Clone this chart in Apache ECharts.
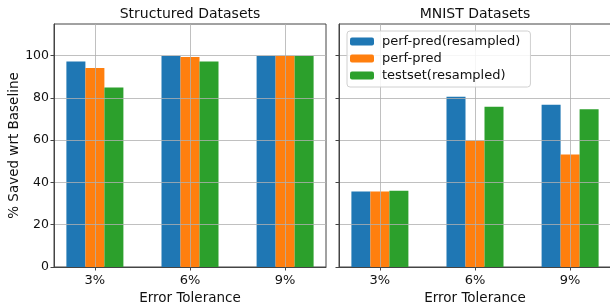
<!DOCTYPE html>
<html>
<head>
<meta charset="utf-8">
<script src="https://cdn.jsdelivr.net/npm/echarts@6/dist/echarts.min.js"></script>
<style>
  html, body { margin: 0; padding: 0; background: #fff; }
  #chart { width: 610px; height: 303px; }
</style>
</head>
<body>
<div id="chart"></div>
<script>
// error tolerance groups
const categories = ['3%', '6%', '9%']
const seriesNames = ['perf-pred(resampled)', 'perf-pred', 'testset(resampled)']
const yTicks = [0, 20, 40, 60, 80, 100]

// Structured datasets
const structPerfPredResampled = [97.2, 99.9, 99.9]
const structPerfPred = [94.2, 99.4, 99.9]
const structTestsetResampled = [84.9, 97.2, 99.9]

// MNIST datasets
const mnistPerfPredResampled = [35.7, 80.6, 76.8]
const mnistPerfPred = [35.7, 59.8, 53.2]
const mnistTestsetResampled = [36.1, 75.8, 74.7]

const colors = ['#1f77b4', '#ff7f0e', '#2ca02c']
const frameColor = '#444'
const gridColor = '#b0b0b0'
const font = 'DejaVu Sans'

function xAxisFor(gridIndex) {
  return {
    type: 'value',
    gridIndex: gridIndex,
    min: -0.43,
    max: 2.43,
    z: 3,
    name: 'Error Tolerance',
    nameLocation: 'middle',
    nameGap: 21,
    nameTextStyle: { fontFamily: font, fontSize: 13.5, color: '#111' },
    axisLine: { show: true, onZero: false, lineStyle: { color: frameColor, width: 1 } },
    axisTick: { show: true, inside: false, length: 3.5, customValues: [0, 1, 2], lineStyle: { color: frameColor } },
    axisLabel: {
      customValues: [0, 1, 2],
      margin: 7,
      fontFamily: font,
      fontSize: 13,
      color: '#111',
      formatter: v => categories[v]
    },
    splitLine: { show: true, lineStyle: { color: gridColor, width: 0.8 } }
  }
}

function yAxisFor(gridIndex, showLabels) {
  return {
    type: 'value',
    gridIndex: gridIndex,
    min: 0,
    max: 115,
    z: 3,
    name: showLabels ? '% Saved wrt Baseline' : '',
    nameLocation: 'middle',
    nameGap: 33,
    nameTextStyle: { fontFamily: font, fontSize: 13.5, color: '#111' },
    axisLine: { show: true, onZero: false, lineStyle: { color: frameColor, width: 1 } },
    axisTick: { show: true, inside: false, length: 3.5, customValues: yTicks, lineStyle: { color: frameColor } },
    axisLabel: {
      show: showLabels,
      customValues: yTicks,
      margin: 5,
      fontFamily: font,
      fontSize: 12.5,
      color: '#111'
    },
    splitLine: { show: true, lineStyle: { color: gridColor, width: 0.8 } }
  }
}

function barSeries(name, values, idx, gridIndex) {
  return {
    name: name,
    type: 'bar',
    xAxisIndex: gridIndex,
    yAxisIndex: gridIndex,
    barWidth: 19,
    barGap: '0%',
    itemStyle: { color: colors[idx] },
    emphasis: { disabled: true },
    data: values.map((v, i) => [i, v])
  }
}

const chart = echarts.init(document.getElementById('chart'), null, { renderer: 'canvas' })

chart.setOption({
  animation: false,
  color: colors,
  title: [
    { text: 'Structured Datasets', left: 190, top: 7, textAlign: 'center', padding: 0,
      textStyle: { fontFamily: font, fontSize: 14, fontWeight: 'normal', color: '#111' } },
    { text: 'MNIST Datasets', left: 475, top: 7, textAlign: 'center', padding: 0,
      textStyle: { fontFamily: font, fontSize: 14, fontWeight: 'normal', color: '#111' } }
  ],
  legend: {
    data: seriesNames,
    orient: 'vertical',
    left: 347,
    top: 31,
    padding: [4, 10, 5, 3],
    itemWidth: 24,
    itemHeight: 8,
    itemGap: 4,
    backgroundColor: 'rgba(255,255,255,0.85)',
    borderColor: '#d0d0d0',
    borderWidth: 1,
    borderRadius: 3,
    textStyle: { fontFamily: font, fontSize: 13, color: '#111', padding: [0, 0, 0, 3] },
    z: 10
  },
  grid: [
    { left: 54, top: 24, width: 272, height: 243, outerBoundsMode: 'none', containLabel: false,
      show: true, borderColor: frameColor, borderWidth: 1, backgroundColor: 'transparent' },
    { left: 339, top: 24, width: 272, height: 243, outerBoundsMode: 'none', containLabel: false,
      show: true, borderColor: frameColor, borderWidth: 1, backgroundColor: 'transparent' }
  ],
  xAxis: [xAxisFor(0), xAxisFor(1)],
  yAxis: [yAxisFor(0, true), yAxisFor(1, false)],
  series: [
    barSeries(seriesNames[0], structPerfPredResampled, 0, 0),
    barSeries(seriesNames[1], structPerfPred, 1, 0),
    barSeries(seriesNames[2], structTestsetResampled, 2, 0),
    barSeries(seriesNames[0], mnistPerfPredResampled, 0, 1),
    barSeries(seriesNames[1], mnistPerfPred, 1, 1),
    barSeries(seriesNames[2], mnistTestsetResampled, 2, 1)
  ]
})
</script>
</body>
</html>
